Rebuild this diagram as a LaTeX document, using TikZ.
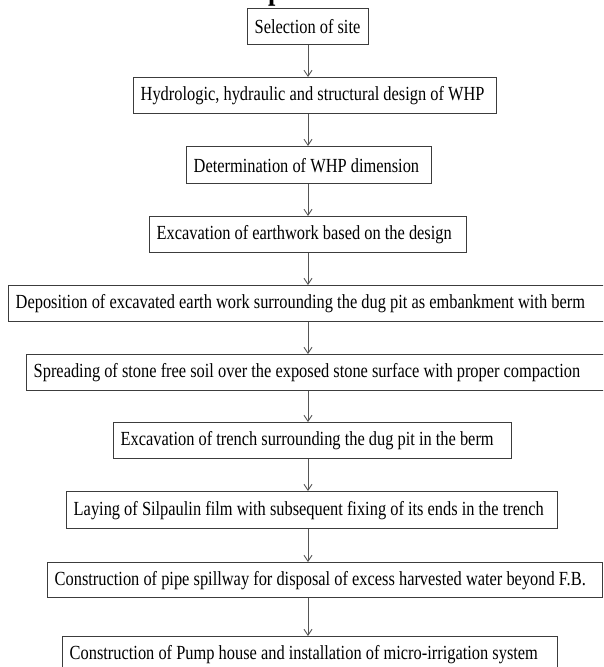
\documentclass[tikz,border=0pt]{standalone}
\usepackage{fontspec}
\setmainfont{Liberation Serif}[FakeStretch=0.82]
\usetikzlibrary{arrows.meta}
\newcommand\boxtxt[2]{\makebox[#1][l]{#2}}
\definecolor{boxgray}{HTML}{3C3C3C}
\definecolor{arrgray}{HTML}{555555}
\tikzset{
  stepbox/.style={draw=boxgray, line width=1.4pt, anchor=north west,
    inner xsep=7pt, inner ysep=0pt, minimum height=36pt,
    font=\fontsize{20}{24}\selectfont, text=black},
  arr/.style={draw=arrgray, line width=0.9pt,
    -{Straight Barb[length=6pt,width=8pt,line width=0.9pt]}}
}
\begin{document}
\begin{tikzpicture}[x=1pt,y=-1pt]
\useasboundingbox (0,0) rectangle (603,667);
\clip (0,0) rectangle (603,667);
\fill[white] (0,0) rectangle (603,667);
\node[anchor=base west, inner sep=0pt, font=\fontsize{32}{36}\selectfont\bfseries] (title) at (268,-1) {p};
\coordinate (ax) at (308,0);
\node[stepbox] (b1) at (247,8) {\boxtxt{107pt}{Selection of site}};
\node[stepbox] (b2) at (133,77) {\boxtxt{349pt}{Hydrologic, hydraulic and structural design of WHP}};
\node[stepbox, minimum height=37pt] (b3) at (186,146) {\boxtxt{231pt}{Determination of WHP dimension}};
\node[stepbox] (b4) at (149,216) {\boxtxt{303pt}{Excavation of earthwork based on the design}};
\node[stepbox] (b5) at (8,285) {\boxtxt{603pt}{Deposition of excavated earth work surrounding the dug pit as embankment with berm}};
\node[stepbox] (b6) at (26,354) {\boxtxt{585pt}{Spreading of stone free soil over the exposed stone surface with proper compaction}};
\node[stepbox] (b7) at (113,422) {\boxtxt{384pt}{Excavation of trench surrounding the dug pit in the berm}};
\node[stepbox, minimum height=37pt] (b8) at (66,491) {\boxtxt{477pt}{Laying of Silpaulin film with subsequent fixing of its ends in the trench}};
\node[stepbox, minimum height=35pt] (b9) at (47,562) {\boxtxt{541pt}{Construction of pipe spillway for disposal of excess harvested water beyond F.B.}};
\node[stepbox] (b10) at (62,636) {\boxtxt{481pt}{Construction of Pump house and installation of micro-irrigation system}};
\draw[arr] (ax |- b1.south) -- (ax |- b2.north);
\draw[arr] (ax |- b2.south) -- (ax |- b3.north);
\draw[arr] (ax |- b3.south) -- (ax |- b4.north);
\draw[arr] (ax |- b4.south) -- (ax |- b5.north);
\draw[arr] (ax |- b5.south) -- (ax |- b6.north);
\draw[arr] (ax |- b6.south) -- (ax |- b7.north);
\draw[arr] (ax |- b7.south) -- (ax |- b8.north);
\draw[arr] (ax |- b8.south) -- (ax |- b9.north);
\draw[arr] (ax |- b9.south) -- (ax |- b10.north);
\end{tikzpicture}
\end{document}
